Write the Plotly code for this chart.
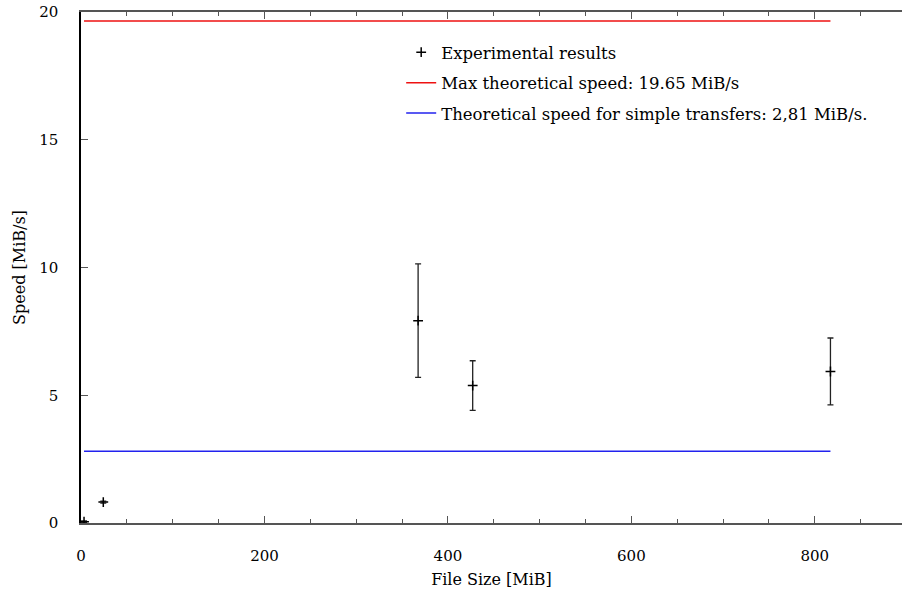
import plotly.graph_objects as go

file_size = [3.3, 24.3, 367.5, 427.0, 817.0]
speed = [0.05, 0.82, 7.92, 5.38, 5.93]
speed_err = [0.03, 0.04, 2.22, 0.97, 1.31]
max_speed = 19.65
simple_speed = 2.81

FONT = "DejaVu Serif"

fig = go.Figure()
fig.add_trace(go.Scatter(
    x=file_size, y=speed, mode="markers", name="Experimental results",
    legendgroup="a",
    marker=dict(symbol="cross-thin", size=7, color="black",
                line=dict(color="black", width=1.5)),
    error_y=dict(type="data", array=speed_err, visible=True,
                 color="#222", thickness=1.3, width=3),
))
fig.add_trace(go.Scatter(
    x=[file_size[0], file_size[-1]], y=[max_speed, max_speed], mode="lines",
    name="Max theoretical speed: 19.65 MiB/s", legendgroup="b",
    line=dict(color="#ee1111", width=1.5),
))
fig.add_trace(go.Scatter(
    x=[file_size[0], file_size[-1]], y=[simple_speed, simple_speed], mode="lines",
    name="Theoretical speed for simple transfers: 2,81 MiB/s.", legendgroup="c",
    line=dict(color="#2222ee", width=1.5),
))

fig.update_layout(
    width=902, height=594,
    margin=dict(l=81, r=0, t=12, b=71),
    plot_bgcolor="white", paper_bgcolor="white",
    font=dict(family=FONT, size=15, color="black"),
    showlegend=True,
    legend=dict(x=0.39, y=0.955, xanchor="left", yanchor="top",
                bgcolor="rgba(0,0,0,0)", tracegroupgap=6,
                font=dict(family=FONT, size=16.5)),
    xaxis=dict(range=[0, 895], showgrid=False, zeroline=False,
               showline=True, linecolor="#555", linewidth=1.5, mirror="ticks",
               ticks="inside", ticklen=7, tickcolor="#555", tickwidth=1,
               tickvals=[0, 200, 400, 600, 800], ticklabelstandoff=18,
               minor=dict(dtick=50, ticks="inside", ticklen=4, tickcolor="#555"),
               title=dict(text="File Size [MiB]", standoff=10,
                          font=dict(family=FONT, size=16, color="black"))),
    yaxis=dict(range=[0, 20], showgrid=False, zeroline=False,
               showline=True, linecolor="black", linewidth=1.5, mirror=False,
               ticks="inside", ticklen=7, tickcolor="#555", tickwidth=1,
               tickvals=[0, 5, 10, 15, 20], ticklabelstandoff=18,
               title=dict(text="Speed [MiB/s]", standoff=10,
                          font=dict(family=FONT, size=16, color="black"))),
)

fig.write_html("out.html")
